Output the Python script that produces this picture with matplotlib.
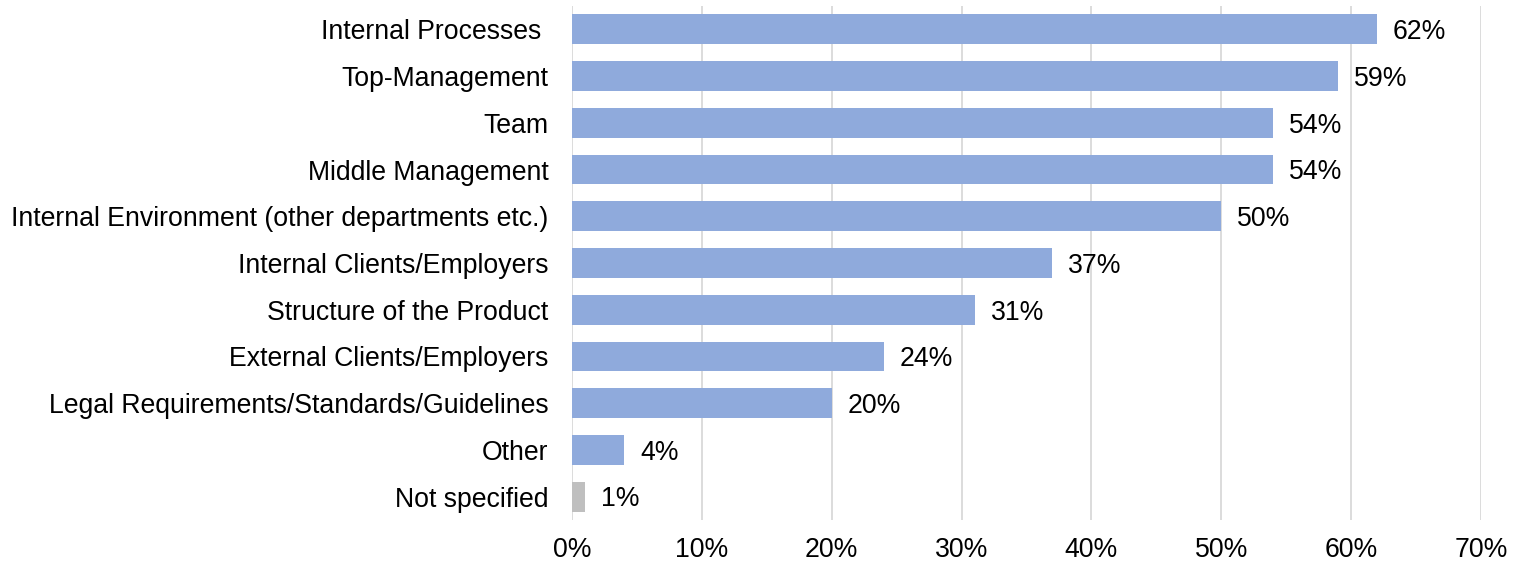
import matplotlib
matplotlib.use('Agg')
import matplotlib.pyplot as plt
from matplotlib.ticker import FuncFormatter

plt.rcParams['font.family'] = ['Liberation Sans', 'DejaVu Sans']

# Survey: share of respondents naming each factor
categories = [
    'Internal Processes ',
    'Top-Management',
    'Team',
    'Middle Management',
    'Internal Environment (other departments etc.)',
    'Internal Clients/Employers',
    'Structure of the Product',
    'External Clients/Employers',
    'Legal Requirements/Standards/Guidelines',
    'Other',
    'Not specified',
]
shares = [62, 59, 54, 54, 50, 37, 31, 24, 20, 4, 1]
x_ticks = [0, 10, 20, 30, 40, 50, 60, 70]

BLUE = '#8FAADC'
GREY = '#BFBFBF'
FS = 19.2
colors = [GREY if c == 'Not specified' else BLUE for c in categories]

fig = plt.figure(figsize=(15.13, 5.64), dpi=100)
ax = fig.add_axes([572 / 1513, 1 - 520 / 564, (1481 - 572) / 1513, (520 - 6) / 564])

y = list(range(len(categories)))
ax.barh(y, shares, height=0.64, color=colors, zorder=3)

for yi, v in zip(y, shares):
    ax.annotate(f'{v}%', xy=(v, yi), xytext=(11.5, -2), textcoords='offset points',
                ha='left', va='center', fontsize=FS, color='#000000')

ax.set_xlim(0, 70)
ax.set_ylim(len(categories) - 0.5, -0.5)
ax.set_xticks(x_ticks)
ax.xaxis.set_major_formatter(FuncFormatter(lambda v, _: f'{v:.0f}%'))
ax.set_yticks(y)
ax.set_yticklabels(categories)

ax.grid(axis='x', color='#D9D9D9', linewidth=1.3, zorder=0)
for s in ax.spines.values():
    s.set_visible(False)
ax.tick_params(axis='both', length=0, labelsize=FS, colors='#000000')
ax.tick_params(axis='y', pad=17)
ax.tick_params(axis='x', pad=12.5)

plt.savefig('out.png', dpi=100)
